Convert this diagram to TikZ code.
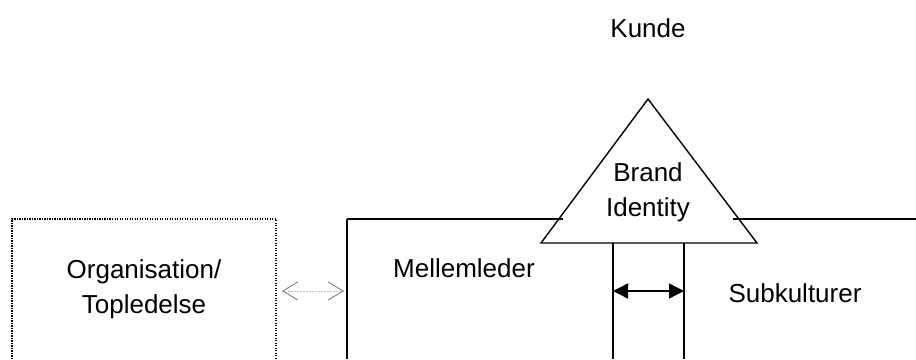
\documentclass[tikz,border=0pt]{standalone}
\usepackage{fontspec}
\setmainfont{Liberation Sans}
\usetikzlibrary{arrows.meta}
\begin{document}
\begin{tikzpicture}[x=1pt,y=-1pt,
  lbl/.style={inner sep=0pt, font=\fontsize{26}{35}\selectfont, align=center},
  solidline/.style={draw=black, line width=1.4pt},
  thickline/.style={draw=black, line width=2pt},
  dottedbox/.style={draw=black, line width=1.2pt, dash pattern=on 1.2pt off 1.3pt},
  blackarrow/.style={draw=black, line width=1.4pt, {Triangle[length=15pt,width=15pt]}-{Triangle[length=15pt,width=15pt]}},
  grayarrow/.style={draw=gray!45, line width=0.6pt, dash pattern=on 1pt off 0.5pt,
     {Straight Barb[length=15pt,width=18pt,color=gray!90!black,line width=0.8pt,sep=0pt]}-{Straight Barb[length=15pt,width=18pt,color=gray!90!black,line width=0.8pt]}}
]
\useasboundingbox (0,0) rectangle (916,359);
% coordinates
\coordinate (apex) at (648,99);
\coordinate (bl) at (541,243);
\coordinate (br) at (757,243);
\coordinate (hl1) at (347,219);
\coordinate (hl2) at (563,219);
\coordinate (hr1) at (733,219);
\coordinate (hr2) at (916,219);
\coordinate (lbot) at (347,359);
\coordinate (v1t) at (613,243);
\coordinate (v1b) at (613,359);
\coordinate (v2t) at (684,243);
\coordinate (v2b) at (684,359);
\coordinate (a1) at (613,291);
\coordinate (a2) at (684,291);
\coordinate (g1) at (282,291);
\coordinate (g2) at (344,291);
% dotted box
\draw[dottedbox] (12,359) -- (12,219) -- (276,219) -- (276,359);
% big open box
\draw[thickline] (lbot) -- (hl1);
\draw[solidline] (hl1) -- (hl2);
\draw[solidline] (hr1) -- (hr2);
% triangle
\draw[solidline, line join=miter] (apex) -- (bl) -- (br) -- cycle;
% vertical lines
\draw[solidline] (v1t) -- (v1b);
\draw[solidline] (v2t) -- (v2b);
% arrows
\draw[blackarrow] (a1) -- (a2);
\draw[grayarrow] (g1) -- (g2);
% labels
\node[lbl, anchor=base] (kunde) at (648,37) {Kunde};
\node[lbl] (brand) at (648,192) {Brand\\Identity};
\node[lbl] (org) at (144,289) {Organisation/\\Topledelse};
\node[lbl, anchor=base] (mellem) at (464,277) {Mellemleder};
\node[lbl, anchor=base] (sub) at (795,302) {Subkulturer};
\end{tikzpicture}
\end{document}
